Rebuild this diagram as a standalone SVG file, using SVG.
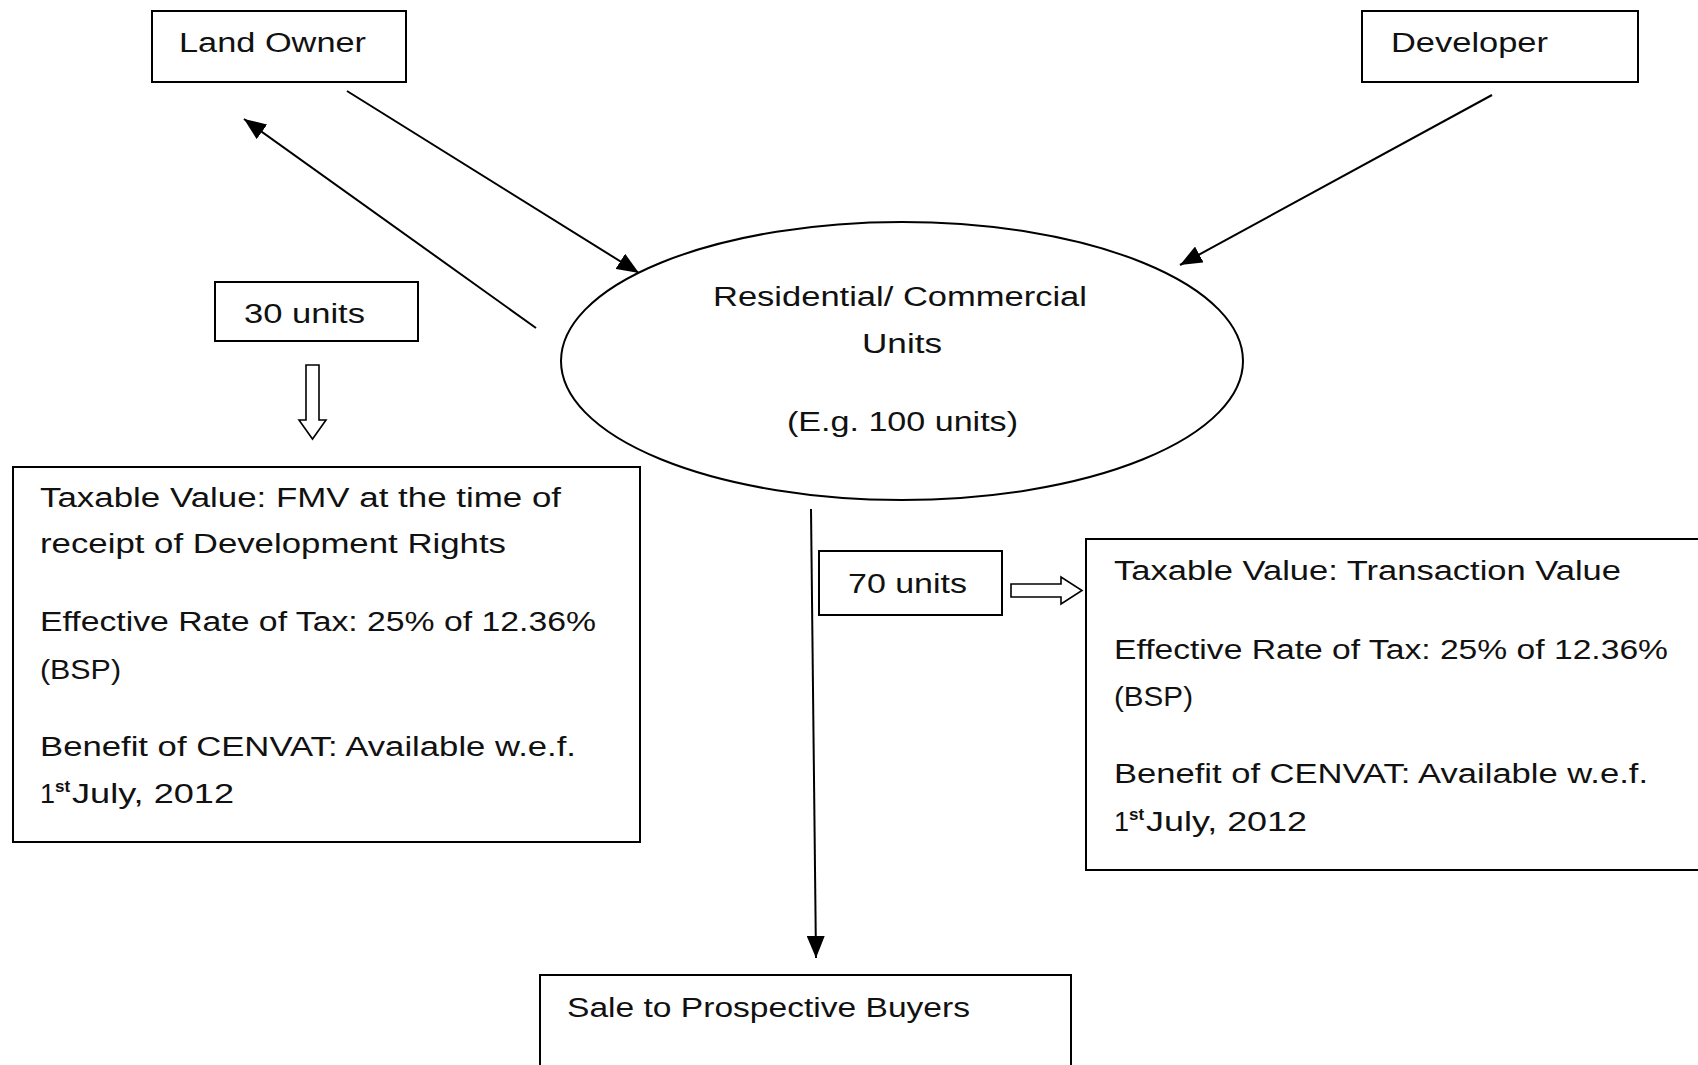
<svg xmlns="http://www.w3.org/2000/svg" width="1698" height="1065" viewBox="0 0 1698 1065">
<style>
  .box { fill: #fff; stroke: #000; stroke-width: 2; }
  .t { font-family: "Liberation Sans", Arial, sans-serif; font-size: 27px; fill: #111; }
  .c { stroke: #000; stroke-width: 2; fill: none; }
  .hollow { fill: #fff; stroke: #000; stroke-width: 1.6; }
</style>
<defs>
  <marker id="ah" markerUnits="userSpaceOnUse" markerWidth="24" markerHeight="18" refX="22" refY="9" orient="auto">
    <path d="M0,0 L22,9 L0,18 Z" fill="#000"/>
  </marker>
</defs>
<rect width="1698" height="1065" fill="#fff"/>

<g id="connectors">
  <line class="c" x1="347" y1="91" x2="639" y2="273" marker-end="url(#ah)"/>
  <line class="c" x1="536" y1="328" x2="244" y2="119" marker-end="url(#ah)"/>
  <line class="c" x1="1492" y1="95" x2="1180" y2="265" marker-end="url(#ah)"/>
  <line class="c" x1="811" y1="509" x2="816" y2="958" marker-end="url(#ah)"/>
  <path class="hollow" d="M306,365 L319,365 L319,420 L326,420 L312.5,439 L299,420 L306,420 Z"/>
  <path class="hollow" d="M1011,584 L1061,584 L1061,577 L1082,590.5 L1061,604 L1061,597 L1011,597 Z"/>
</g>

<g id="land-owner">
  <rect class="box" x="152" y="11" width="254" height="71"/>
  <text class="t" x="179" y="52" textLength="187" lengthAdjust="spacingAndGlyphs">Land Owner</text>
</g>

<g id="developer">
  <rect class="box" x="1362" y="11" width="276" height="71"/>
  <text class="t" x="1391" y="52" textLength="157" lengthAdjust="spacingAndGlyphs">Developer</text>
</g>

<g id="units-ellipse">
  <ellipse class="box" cx="902" cy="361" rx="341" ry="139"/>
  <text class="t" x="713" y="306" textLength="374" lengthAdjust="spacingAndGlyphs">Residential/ Commercial</text>
  <text class="t" x="862" y="353" textLength="80" lengthAdjust="spacingAndGlyphs">Units</text>
  <text class="t" x="787" y="431" textLength="231" lengthAdjust="spacingAndGlyphs">(E.g. 100 units)</text>
</g>

<g id="units-30">
  <rect class="box" x="215" y="282" width="203" height="59"/>
  <text class="t" x="244" y="323" textLength="121" lengthAdjust="spacingAndGlyphs">30 units</text>
</g>

<g id="landowner-tax">
  <rect class="box" x="13" y="467" width="627" height="375"/>
  <text class="t" x="40" y="507" textLength="521" lengthAdjust="spacingAndGlyphs">Taxable Value: FMV at the time of</text>
  <text class="t" x="40" y="553" textLength="466" lengthAdjust="spacingAndGlyphs">receipt of Development Rights</text>
  <text class="t" x="40" y="631" textLength="556" lengthAdjust="spacingAndGlyphs">Effective Rate of Tax: 25% of 12.36%</text>
  <text class="t" x="40" y="679" textLength="81" lengthAdjust="spacingAndGlyphs">(BSP)</text>
  <text class="t" x="40" y="756" textLength="536" lengthAdjust="spacingAndGlyphs">Benefit of CENVAT: Available w.e.f.</text>
  <text class="t" x="40" y="803">1<tspan font-size="17" font-weight="bold" dy="-11">st</tspan></text>
  <text class="t" x="72" y="803" textLength="162" lengthAdjust="spacingAndGlyphs">July, 2012</text>
</g>

<g id="units-70">
  <rect class="box" x="819" y="551" width="183" height="64"/>
  <text class="t" x="848" y="593" textLength="119" lengthAdjust="spacingAndGlyphs">70 units</text>
</g>

<g id="developer-tax">
  <rect class="box" x="1086" y="539" width="620" height="331"/>
  <text class="t" x="1114" y="580" textLength="507" lengthAdjust="spacingAndGlyphs">Taxable Value: Transaction Value</text>
  <text class="t" x="1114" y="659" textLength="554" lengthAdjust="spacingAndGlyphs">Effective Rate of Tax: 25% of 12.36%</text>
  <text class="t" x="1114" y="706" textLength="79" lengthAdjust="spacingAndGlyphs">(BSP)</text>
  <text class="t" x="1114" y="783" textLength="534" lengthAdjust="spacingAndGlyphs">Benefit of CENVAT: Available w.e.f.</text>
  <text class="t" x="1114" y="831">1<tspan font-size="17" font-weight="bold" dy="-11">st</tspan></text>
  <text class="t" x="1146" y="831" textLength="161" lengthAdjust="spacingAndGlyphs">July, 2012</text>
</g>

<g id="sale">
  <rect class="box" x="540" y="975" width="531" height="100"/>
  <text class="t" x="567" y="1017" textLength="403" lengthAdjust="spacingAndGlyphs">Sale to Prospective Buyers</text>
</g>
</svg>
